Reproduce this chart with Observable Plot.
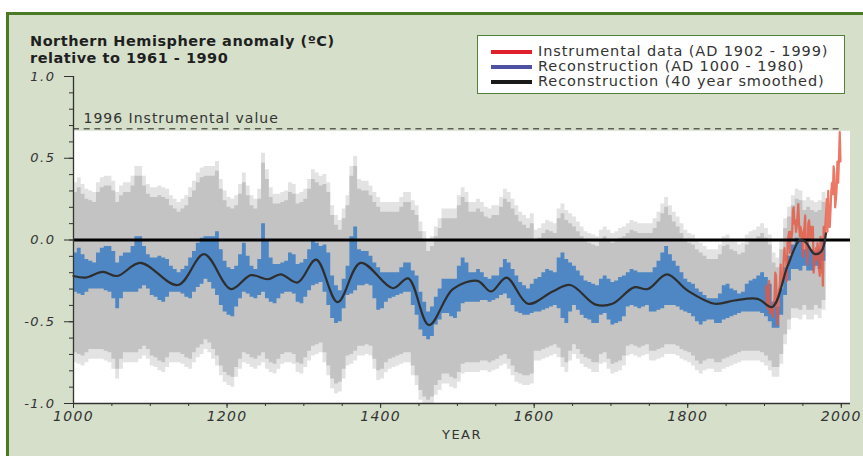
<!DOCTYPE html>
<html>
<head>
<meta charset="utf-8">
<script src="https://cdn.jsdelivr.net/npm/d3@7"></script>
<script src="https://cdn.jsdelivr.net/npm/@observablehq/plot@0.6"></script>
<style>
html,body{margin:0;padding:0;background:#fff;overflow:hidden;}
#wrap{position:relative;width:863px;height:456px;overflow:hidden;background:#fff;font-family:"DejaVu Sans",sans-serif;}
#panel{position:absolute;left:6px;top:12px;width:890px;height:480px;background:#d5dfca;border:3px solid #4b7a26;box-sizing:border-box;}
#chart{position:absolute;left:0;top:0;}
#chart svg{background:transparent;}
#title{position:absolute;left:30px;top:33px;font-weight:bold;font-size:14.5px;letter-spacing:0.5px;line-height:17px;color:#1f1f1f;white-space:nowrap;}
#legend{position:absolute;left:477px;top:35px;width:368px;height:59px;box-sizing:border-box;background:#fff;border:1.5px solid #55803a;}
#legend .sw{position:absolute;left:13px;width:41px;height:4px;}
#legend .tx{position:absolute;left:60px;height:16px;line-height:16px;font-size:14.5px;letter-spacing:0.9px;color:#333;white-space:nowrap;}
[aria-label="x-axis tick label"] text{letter-spacing:1.3px;}
[aria-label="y-axis tick label"] text{letter-spacing:1.5px;}
</style>
</head>
<body>
<div id="wrap">
  <div id="panel"></div>
  <div id="chart"></div>
  <div id="title"></div>
  <div id="legend"></div>
</div>
<script>
// ---------- DATA ----------
const titleLines = ["Northern Hemisphere anomaly (ºC)", "relative to 1961 - 1990"];
const legendLabels = ["Instrumental data (AD 1902 - 1999)", "Reconstruction (AD 1000 - 1980)", "Reconstruction (40 year smoothed)"];
const legendColors = ["#e0202a", "#4f52a3", "#1a1a1a"];

const xMajorTicks = [1000, 1200, 1400, 1600, 1800, 2000];
const yMajorTicks = [-1, -0.5, 0, 0.5, 1];

// Reconstruction (AD 1000-1980): per 5-year bin (start years 1000..1975), upper and lower extent of annual values
const reconHigh = [
 -0.08,-0.05,-0.09,-0.12,-0.13,-0.14,-0.08,-0.05,-0.04,-0.04,
 -0.07,-0.14,-0.10,-0.08,-0.08,-0.04,0.02,0.02,-0.04,-0.09,
 -0.11,-0.11,-0.10,-0.11,-0.12,-0.16,-0.18,-0.20,-0.18,-0.16,
 -0.11,-0.07,-0.02,0.01,0.02,0.02,0.02,0.05,-0.06,-0.13,
 -0.17,-0.18,-0.16,-0.09,-0.02,-0.10,-0.16,-0.18,-0.12,0.10,
 0.00,-0.11,-0.15,-0.15,-0.14,-0.13,-0.08,-0.09,-0.15,-0.14,
 -0.12,-0.06,0.00,-0.02,-0.04,-0.03,-0.08,-0.22,-0.28,-0.31,
 -0.24,-0.16,0.02,0.08,-0.06,-0.07,-0.07,-0.10,-0.14,-0.17,
 -0.20,-0.20,-0.20,-0.20,-0.20,-0.17,-0.14,-0.14,-0.19,-0.22,
 -0.32,-0.38,-0.44,-0.41,-0.35,-0.30,-0.24,-0.24,-0.24,-0.24,
 -0.16,-0.11,-0.14,-0.20,-0.20,-0.18,-0.20,-0.23,-0.24,-0.22,
 -0.22,-0.17,-0.12,-0.14,-0.18,-0.22,-0.26,-0.28,-0.30,-0.27,
 -0.24,-0.23,-0.20,-0.18,-0.19,-0.20,-0.11,-0.08,-0.12,-0.14,
 -0.16,-0.19,-0.22,-0.25,-0.26,-0.27,-0.28,-0.24,-0.22,-0.24,
 -0.26,-0.25,-0.23,-0.22,-0.20,-0.18,-0.19,-0.20,-0.20,-0.20,
 -0.20,-0.17,-0.13,-0.08,-0.04,-0.09,-0.13,-0.16,-0.20,-0.24,
 -0.26,-0.27,-0.30,-0.32,-0.34,-0.36,-0.36,-0.36,-0.33,-0.28,
 -0.27,-0.30,-0.31,-0.33,-0.32,-0.27,-0.25,-0.24,-0.22,-0.20,
 -0.23,-0.27,-0.38,-0.41,-0.30,-0.17,-0.10,-0.03,0.01,0.00,
 -0.06,-0.04,-0.06,-0.07,-0.06,-0.01
];
const reconLow = [
 -0.32,-0.33,-0.34,-0.32,-0.30,-0.30,-0.30,-0.30,-0.31,-0.32,
 -0.36,-0.42,-0.36,-0.32,-0.32,-0.32,-0.32,-0.30,-0.28,-0.30,
 -0.34,-0.35,-0.37,-0.38,-0.35,-0.32,-0.32,-0.32,-0.33,-0.35,
 -0.36,-0.32,-0.29,-0.27,-0.24,-0.26,-0.30,-0.34,-0.40,-0.44,
 -0.46,-0.47,-0.41,-0.36,-0.32,-0.33,-0.35,-0.36,-0.34,-0.32,
 -0.36,-0.38,-0.39,-0.36,-0.33,-0.32,-0.32,-0.33,-0.38,-0.39,
 -0.35,-0.31,-0.28,-0.27,-0.26,-0.32,-0.40,-0.48,-0.51,-0.50,
 -0.42,-0.34,-0.33,-0.31,-0.28,-0.28,-0.27,-0.28,-0.36,-0.43,
 -0.42,-0.38,-0.36,-0.35,-0.34,-0.33,-0.32,-0.32,-0.40,-0.46,
 -0.55,-0.59,-0.61,-0.59,-0.52,-0.49,-0.45,-0.45,-0.47,-0.48,
 -0.44,-0.39,-0.38,-0.38,-0.38,-0.38,-0.37,-0.37,-0.38,-0.37,
 -0.36,-0.34,-0.33,-0.36,-0.40,-0.44,-0.45,-0.46,-0.46,-0.45,
 -0.44,-0.44,-0.43,-0.42,-0.41,-0.40,-0.42,-0.48,-0.51,-0.44,
 -0.40,-0.43,-0.46,-0.48,-0.49,-0.51,-0.51,-0.46,-0.45,-0.49,
 -0.52,-0.51,-0.50,-0.47,-0.41,-0.40,-0.41,-0.42,-0.41,-0.40,
 -0.44,-0.44,-0.43,-0.42,-0.40,-0.40,-0.40,-0.41,-0.43,-0.44,
 -0.45,-0.47,-0.50,-0.52,-0.50,-0.49,-0.49,-0.51,-0.51,-0.49,
 -0.48,-0.47,-0.46,-0.45,-0.44,-0.44,-0.44,-0.44,-0.44,-0.45,
 -0.47,-0.50,-0.54,-0.54,-0.46,-0.34,-0.25,-0.18,-0.18,-0.19,
 -0.16,-0.19,-0.19,-0.16,-0.18,-0.13
];
// Uncertainty band half-width beyond the reconstruction's extent (before / from 1600)
const bandHalfWidth = [0.37, 0.24];
const bandChangeYear = 1600;
const bandHaloExtra = 0.06;

// 40-year smoothed reconstruction
const smoothYear = [1000,1016,1038,1057,1087,1136,1170,1205,1231,1253,1270,1292,1316,1344,1374,1416,1436,1463,1494,1526,1544,1564,1592,1624,1647,1680,1702,1730,1748,1773,1800,1835,1861,1891,1910,1930,1946,1953,1965,1974,1980];
const smoothValue = [-0.22,-0.23,-0.195,-0.22,-0.14,-0.275,-0.087,-0.30,-0.215,-0.24,-0.21,-0.26,-0.12,-0.38,-0.14,-0.295,-0.235,-0.52,-0.30,-0.25,-0.315,-0.23,-0.39,-0.315,-0.275,-0.395,-0.39,-0.29,-0.30,-0.21,-0.31,-0.39,-0.37,-0.36,-0.41,-0.16,0.0,-0.01,-0.085,-0.07,0.04];

// Instrumental data AD 1902-1999 (annual)
const instrumentalStart = 1902;
const instrumentalValue = [
 -0.28,-0.38,-0.42,-0.30,-0.25,-0.45,-0.40,-0.44,-0.42,-0.47,
 -0.38,-0.36,-0.20,-0.22,-0.40,-0.52,-0.40,-0.30,-0.28,-0.15,
 -0.28,-0.22,-0.25,-0.12,-0.05,-0.12,-0.10,-0.25,-0.02,0.02,
 0.05,-0.08,0.05,0.00,0.05,0.18,0.20,0.10,0.12,0.05,
 0.08,0.15,0.22,0.10,0.02,0.08,0.05,0.00,-0.10,0.05,
 0.08,0.15,-0.05,-0.08,-0.15,0.10,0.12,0.06,0.00,0.08,
 0.05,0.08,-0.20,-0.15,-0.08,-0.05,-0.12,-0.02,-0.05,-0.18,
 -0.22,0.02,-0.20,-0.10,-0.28,0.08,-0.02,0.06,0.15,0.25,
 0.05,0.30,0.10,0.08,0.18,0.30,0.35,0.28,0.45,0.40,
 0.20,0.25,0.32,0.48,0.35,0.50,0.66,0.48
];

const instrumentalReference = [{value: 0.68, label: "1996 Instrumental value"}];
const axisLabelX = ["YEAR"];
const plotWhiteTop = 0.665;
const xDomain = [1000, 2012];

// ---------- TABLES ----------
const binStarts = d3.range(1000, 1980, 5);
const recon = binStarts.map((year, i) => ({year, hi: reconHigh[i], lo: reconLow[i]}));
recon.push({year: 1980, hi: reconHigh[reconHigh.length - 1], lo: reconLow[reconLow.length - 1]});
const band = recon.map(d => {
  const w = d.year < bandChangeYear ? bandHalfWidth[0] : bandHalfWidth[1];
  return {year: d.year, top: d.hi + w, bottom: d.lo - w, haloTop: d.hi + w + bandHaloExtra, haloBottom: d.lo - w - bandHaloExtra};
});
const smooth = smoothYear.map((year, i) => ({year, value: smoothValue[i]}));
const instrumental = instrumentalValue.map((value, i) => ({year: instrumentalStart + i, value}));

const yMinorTicks = d3.range(-10, 11).map(i => i / 10);
const xMinorTicks = d3.range(1000, 2001, 50);

// ---------- CHART ----------
const chart = Plot.plot({
  width: 863,
  height: 456,
  marginLeft: 73,
  marginRight: 13,
  marginTop: 76,
  marginBottom: 53,
  style: {background: "transparent", fontFamily: "DejaVu Sans", color: "#333", overflow: "visible"},
  x: {domain: xDomain, axis: null},
  y: {domain: [-1, 1], axis: null},
  marks: [
    Plot.rect([0], {x1: xDomain[0], x2: xDomain[1], y1: -1, y2: plotWhiteTop, fill: "#ffffff"}),
    Plot.areaY(band, {x: "year", y1: "haloBottom", y2: "haloTop", curve: "step-after", fill: "#e3e3e3", clip: true}),
    Plot.areaY(band, {x: "year", y1: "bottom", y2: "top", curve: "step-after", fill: "#c3c3c3", clip: true}),
    Plot.areaY(recon, {x: "year", y1: "lo", y2: "hi", curve: "step-after", fill: "#3a7dc4", fillOpacity: 0.85}),
    Plot.line(instrumental, {x: "year", y: "value", stroke: "#e8553f", strokeWidth: 2.2, strokeOpacity: 0.8}),
    Plot.ruleY([0], {x1: xDomain[0], x2: xDomain[1], stroke: "#000", strokeWidth: 3}),
    Plot.line(smooth, {x: "year", y: "value", curve: "catmull-rom", stroke: "#2e2e2e", strokeWidth: 2.2}),
    Plot.ruleY(instrumentalReference, {y: "value", x1: 1000, x2: 2000, stroke: "#222", strokeWidth: 1, strokeDasharray: "6,4.7"}),
    Plot.text(instrumentalReference, {x: 1000, y: "value", text: "label", dx: 10, dy: -10, textAnchor: "start", fontSize: 14, fill: "#333"}),
    Plot.ruleX([1000], {y1: -1, y2: 1, stroke: "#333", strokeWidth: 1.3}),
    Plot.ruleY([-1], {x1: xDomain[0], x2: xDomain[1], stroke: "#333", strokeWidth: 1.3}),
    Plot.axisY({ticks: yMinorTicks, tickSize: 4, tickFormat: () => "", color: "#333", label: null}),
    Plot.axisY({ticks: yMajorTicks, tickSize: 9, tickPadding: 9, tickFormat: d => d.toFixed(1), fontSize: 13, fontStyle: "italic", color: "#333", label: null}),
    Plot.axisX({ticks: xMinorTicks, tickSize: 3, tickFormat: () => "", color: "#333", label: null}),
    Plot.axisX({ticks: xMajorTicks, tickSize: 5, tickPadding: 3, tickFormat: d => String(d), fontSize: 14, fontStyle: "italic", color: "#333", label: null}),
    Plot.text(axisLabelX, {text: d => d, frameAnchor: "bottom", dy: 35, fontSize: 13, fill: "#333"})
  ]
});
document.getElementById("chart").appendChild(chart);
d3.select(chart).selectAll('g[aria-label="text"]').each(function() {
  const t = this.textContent;
  if (t === "YEAR") this.setAttribute("letter-spacing", "1.5px");
  if (t.indexOf("Instrumental") >= 0) this.setAttribute("letter-spacing", "1px");
});

// Title
const title = document.getElementById("title");
titleLines.forEach(t => { const d = document.createElement("div"); d.textContent = t; title.appendChild(d); });

// Legend
const legend = document.getElementById("legend");
const rowCenters = [16, 30.5, 46];
legendLabels.forEach((lab, i) => {
  const sw = document.createElement("div");
  sw.className = "sw";
  sw.style.top = (rowCenters[i] - 2) + "px";
  sw.style.background = legendColors[i];
  legend.appendChild(sw);
  const tx = document.createElement("div");
  tx.className = "tx";
  tx.style.top = (rowCenters[i] - 9) + "px";
  tx.textContent = lab;
  legend.appendChild(tx);
});
</script>
</body>
</html>
